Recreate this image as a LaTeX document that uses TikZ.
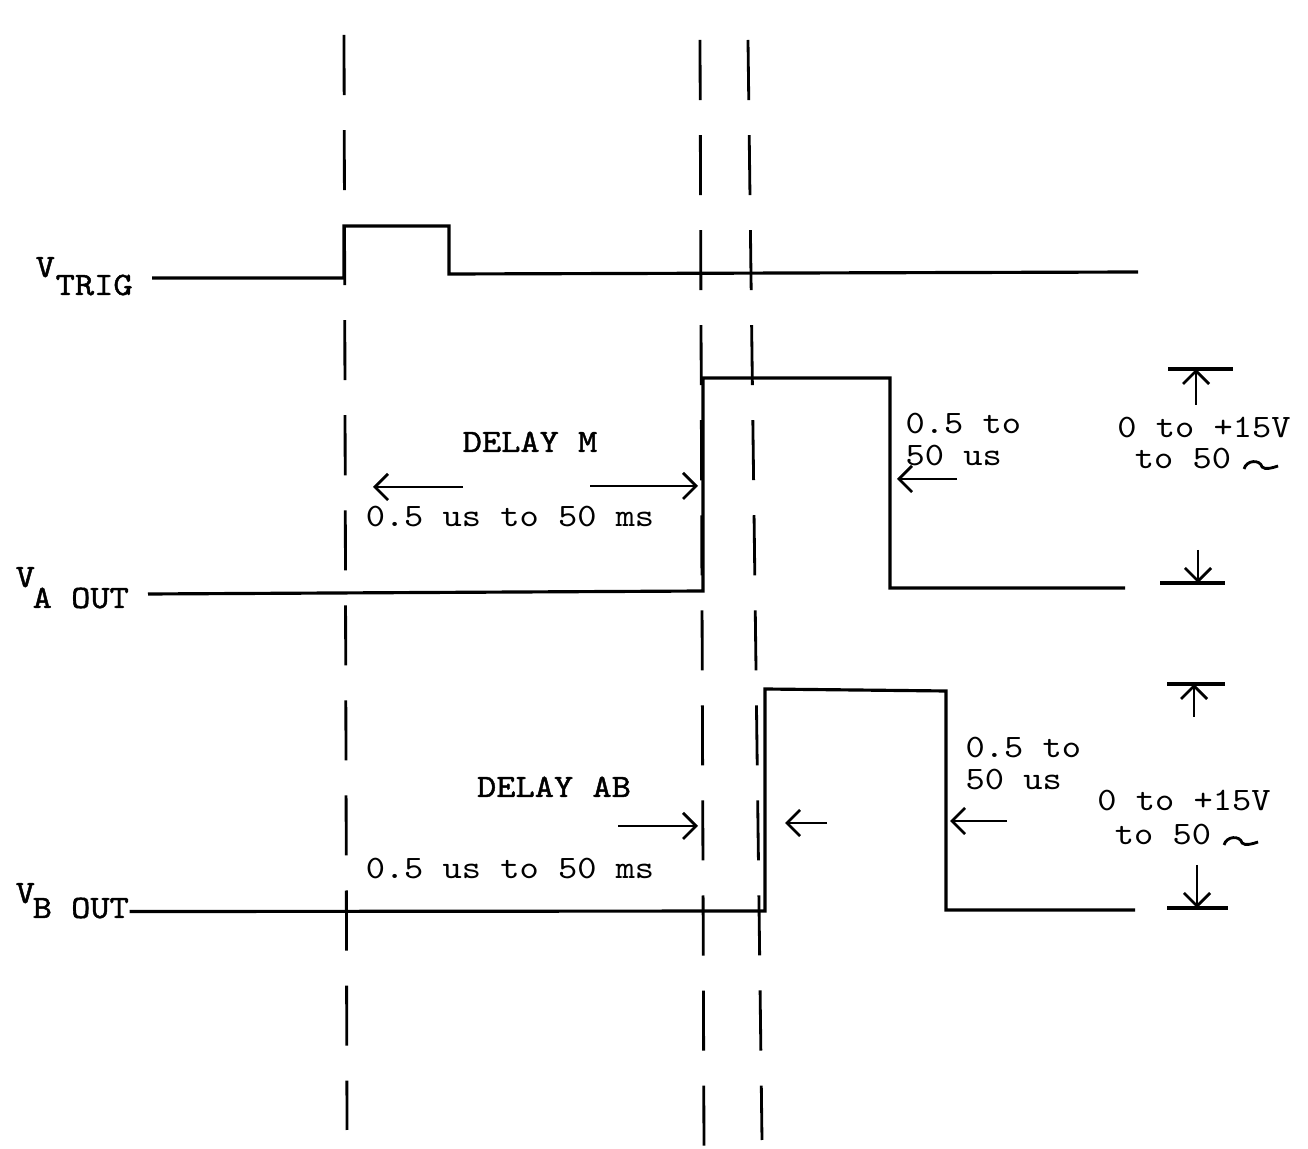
\documentclass[tikz,border=0pt]{standalone}
\usepackage{fontspec}
\newfontfamily\plaintt{lmmono10-regular.otf}[FakeStretch=1.12]
\newfontfamily\heavytt{lmmono10-regular.otf}[FakeStretch=1.12, FakeBold=1.3]
\usetikzlibrary{arrows.meta}
\tikzset{
  sig/.style={line width=0.9pt, line join=miter},
  guide/.style={line width=0.8pt, dash pattern=on 0.6cm off 0.35cm},
  dimarr/.style={-{Straight Barb[length=1.3mm,width=2.6mm]}, line width=0.8pt},
  bar/.style={line width=0.9pt},
  txt/.style={font=\fontsize{9.3}{10}\selectfont\plaintt, inner sep=0pt, anchor=base},
  txtl/.style={txt, anchor=base west},
  btxt/.style={txt, font=\fontsize{9.3}{10}\selectfont\heavytt},
  btxtl/.style={btxt, anchor=base west},
  ohm/.pic={\draw[line width=0.8pt] (0,0) .. controls (2,-9) and (16,-10) .. (18,-2)
    .. controls (21,1) and (28,-1) .. (34,-3);},
}

\begin{document}
\begin{tikzpicture}[x=0.01cm, y=-0.01cm]
  \useasboundingbox (0,0) rectangle (1308,1149);
  % timing guides
  \draw[guide] (344,35) -- (347,1130);
  \draw[guide] (700,40) -- (704,1150);
  \draw[guide] (748,40) -- (762,1140);

  % signal names
  \node[btxtl] (vt) at (35,277) {V};
  \node[btxtl] (vtsub) at (55,295) {TRIG};
  \node[btxtl] (va) at (15,587) {V};
  \node[btxtl] (vasub) at (32,608) {A OUT};
  \node[btxtl] (vb) at (15,903) {V};
  \node[btxtl] (vbsub) at (32,918) {B OUT};

  % waveforms
  \draw[sig] (152,278) -- (344,278) -- (344,226) -- (449,226) -- (449,274) -- (1138,272);
  \draw[sig] (148,594) -- (703,591) -- (703,378) -- (890,378) -- (890,588) -- (1125,588);
  \draw[sig] ([yshift=-1pt]vbsub.east) -- (765,911) -- (765,689) -- (946,691) -- (946,910) -- (1135,910);

  % delay M
  \node[btxt] (dm) at (530,452) {DELAY M};
  \coordinate (dmL1) at (463,487);
  \coordinate (dmL2) at (373,487);
  \coordinate (dmR1) at (590,486);
  \coordinate (dmR2) at (698,486);
  \draw[dimarr] (dmL1) -- (dmL2);
  \draw[dimarr] (dmR1) -- (dmR2);
  \node[txt] (dmt) at (510,527) {0.5 us to 50 ms};

  % pulse A width
  \node[txtl] (wa1t) at (905,434) {0.5 to};
  \node[txtl] (wa2t) at (905,466) {50 us};
  \coordinate (wa1) at (957,479);
  \coordinate (wa2) at (897,479);
  \draw[dimarr] (wa1) -- (wa2);

  % amplitude A
  \coordinate (aTop) at (1196,369);
  \coordinate (aBot) at (1198,583);
  \draw[bar] (1168,369) -- (1233,369);
  \draw[bar] (1160,583) -- (1225,583);
  \draw[dimarr] (1196,405) -- (aTop);
  \draw[dimarr] (1198,550) -- (aBot);
  \node[txt] (ra1) at (1204,438) {0 to +15V};
  \node[txt] (ra2) at (1183,469) {to 50};
  \path ([xshift=3.5pt]ra2.base east) pic {ohm};

  % delay AB
  \node[btxt] (dab) at (554,797) {DELAY AB};
  \coordinate (dab1) at (618,826);
  \coordinate (dab2) at (698,826);
  \draw[dimarr] (dab1) -- (dab2);
  \node[txt] (dabt) at (510,879) {0.5 us to 50 ms};
  \coordinate (mid1) at (827,823);
  \coordinate (mid2) at (785,823);
  \draw[dimarr] (mid1) -- (mid2);

  % pulse B width
  \node[txtl] (wb1t) at (965,758) {0.5 to};
  \node[txtl] (wb2t) at (965,790) {50 us};
  \coordinate (wb1) at (1007,821);
  \coordinate (wb2) at (950,821);
  \draw[dimarr] (wb1) -- (wb2);

  % amplitude B
  \coordinate (bTop) at (1194,684);
  \coordinate (bBot) at (1197,908);
  \draw[bar] (1167,684) -- (1225,684);
  \draw[bar] (1167,908) -- (1228,908);
  \draw[dimarr] (1194,717) -- (bTop);
  \draw[dimarr] (1197,865) -- (bBot);
  \node[txt] (rb1) at (1184,811) {0 to +15V};
  \node[txt] (rb2) at (1163,845) {to 50};
  \path ([xshift=3.5pt]rb2.base east) pic {ohm};
\end{tikzpicture}
\end{document}
